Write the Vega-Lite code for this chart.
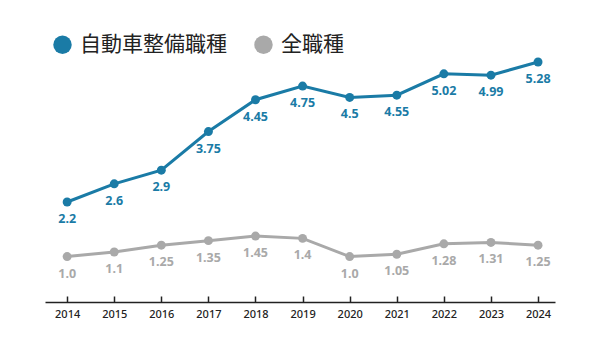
{
  "$schema": "https://vega.github.io/schema/vega-lite/v6.json",
  "width": 510,
  "height": 250,
  "autosize": "none",
  "padding": {"left": 45, "top": 52, "right": 45, "bottom": 48},
  "background": "white",
  "config": {"view": {"stroke": null}, "font": "Noto Sans"},
  "data": {"values": [
    {"year": 2014, "series": "自動車整備職種", "value": 2.2, "label": "2.2"},
    {"year": 2015, "series": "自動車整備職種", "value": 2.6, "label": "2.6"},
    {"year": 2016, "series": "自動車整備職種", "value": 2.9, "label": "2.9"},
    {"year": 2017, "series": "自動車整備職種", "value": 3.75, "label": "3.75"},
    {"year": 2018, "series": "自動車整備職種", "value": 4.45, "label": "4.45"},
    {"year": 2019, "series": "自動車整備職種", "value": 4.75, "label": "4.75"},
    {"year": 2020, "series": "自動車整備職種", "value": 4.5, "label": "4.5"},
    {"year": 2021, "series": "自動車整備職種", "value": 4.55, "label": "4.55"},
    {"year": 2022, "series": "自動車整備職種", "value": 5.02, "label": "5.02"},
    {"year": 2023, "series": "自動車整備職種", "value": 4.99, "label": "4.99"},
    {"year": 2024, "series": "自動車整備職種", "value": 5.28, "label": "5.28"},
    {"year": 2014, "series": "全職種", "value": 1.0, "label": "1.0"},
    {"year": 2015, "series": "全職種", "value": 1.1, "label": "1.1"},
    {"year": 2016, "series": "全職種", "value": 1.25, "label": "1.25"},
    {"year": 2017, "series": "全職種", "value": 1.35, "label": "1.35"},
    {"year": 2018, "series": "全職種", "value": 1.45, "label": "1.45"},
    {"year": 2019, "series": "全職種", "value": 1.4, "label": "1.4"},
    {"year": 2020, "series": "全職種", "value": 1.0, "label": "1.0"},
    {"year": 2021, "series": "全職種", "value": 1.05, "label": "1.05"},
    {"year": 2022, "series": "全職種", "value": 1.28, "label": "1.28"},
    {"year": 2023, "series": "全職種", "value": 1.31, "label": "1.31"},
    {"year": 2024, "series": "全職種", "value": 1.25, "label": "1.25"}
  ]},
  "encoding": {
    "x": {"field": "year", "type": "quantitative",
      "scale": {"domain": [2013.53, 2024.36], "nice": false, "zero": false},
      "axis": {"title": null, "values": [2014,2015,2016,2017,2018,2019,2020,2021,2022,2023,2024],
        "format": "d", "grid": false, "domainColor": "#222", "domainWidth": 1.5,
        "tickColor": "#222", "tickWidth": 1.5, "tickSize": -6, "labelPadding": 12,
        "labelFontSize": 11, "labelColor": "#222", "labelFontWeight": 500, "labelFont": "Noto Sans"}},
    "y": {"field": "value", "type": "quantitative",
      "scale": {"domain": [0, 5.5], "nice": false}, "axis": null},
    "color": {"field": "series", "type": "nominal",
      "scale": {"domain": ["自動車整備職種", "全職種"], "range": ["#1a7ba6", "#a9a9a9"]},
      "legend": {"title": null, "orient": "none", "legendX": 7, "legendY": -18, "direction": "horizontal",
         "symbolType": "circle", "symbolSize": 340, "labelFontSize": 21, "labelFont": "Noto Sans CJK JP",
         "labelColor": "#222", "labelOffset": 7, "columnPadding": 26, "symbolStrokeWidth": 0, "symbolOpacity": 1, "labelLimit": 300}}
  },
  "layer": [
    {"mark": {"type": "line", "strokeWidth": 3}},
    {"mark": {"type": "circle", "size": 80, "opacity": 1}},
    {"mark": {"type": "text", "dy": 17, "fontSize": 12.5, "fontWeight": "bold", "font": "Noto Sans"},
     "encoding": {"text": {"field": "label"}}}
  ]
}
